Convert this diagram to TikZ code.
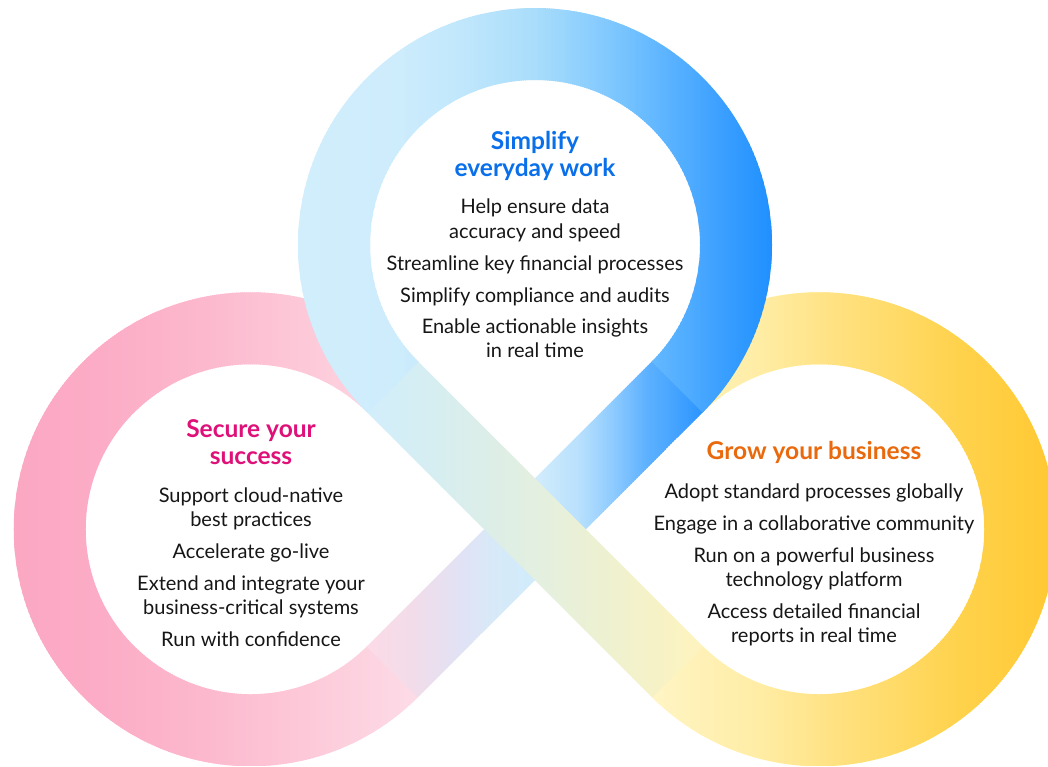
\documentclass[tikz,border=0pt]{standalone}
\usepackage{fontspec}
\setmainfont{Lato}
\usetikzlibrary{calc}

\definecolor{bodytext}{HTML}{161616}
\definecolor{titleblue}{HTML}{0A6FEA}
\definecolor{titlepink}{HTML}{DF1078}
\definecolor{titleorange}{HTML}{E9690C}

% top loop colours
\definecolor{tl0}{HTML}{D2EEFC}
\definecolor{tl1}{HTML}{CDECFC}
\definecolor{tl2}{HTML}{C1E7FC}
\definecolor{tl3}{HTML}{A9DDFB}
\definecolor{tl4}{HTML}{86CBFE}
\definecolor{tl5}{HTML}{66BAFF}
\definecolor{tl6}{HTML}{3CA0FF}
\definecolor{tl7}{HTML}{1E8FFF}
% pink loop colours
\definecolor{pl0}{HTML}{FBA7C3}
\definecolor{pl1}{HTML}{FCACC6}
\definecolor{pl2}{HTML}{FCB8CD}
\definecolor{pl3}{HTML}{FDC8D8}
\definecolor{pl4}{HTML}{FDDCE7}
% yellow loop colours
\definecolor{yl0}{HTML}{FFF5C6}
\definecolor{yl1}{HTML}{FFEDA5}
\definecolor{yl2}{HTML}{FFE284}
\definecolor{yl3}{HTML}{FFDA66}
\definecolor{yl4}{HTML}{FFD24C}
\definecolor{yl5}{HTML}{FFC933}
% diagonal 1 (top-left to bottom-right)
\definecolor{da0}{HTML}{D2EEFC}
\definecolor{da1}{HTML}{D6EEF2}
\definecolor{da2}{HTML}{DAEEEB}
\definecolor{da3}{HTML}{E3EFE0}
\definecolor{da4}{HTML}{EDF1D2}
\definecolor{da5}{HTML}{F5F2C8}
\definecolor{da6}{HTML}{FFF3BE}
% diagonal 2 (bottom-left to top-right)
\definecolor{db0}{HTML}{FCDBE6}
\definecolor{db1}{HTML}{F2DCEA}
\definecolor{db2}{HTML}{E0E3F5}
\definecolor{db3}{HTML}{D6EAF8}
\definecolor{db4}{HTML}{D0EBFC}
\definecolor{db5}{HTML}{B8E0FD}
\definecolor{db6}{HTML}{8ECBFF}
\definecolor{db7}{HTML}{5DB1FF}
\definecolor{db8}{HTML}{2A94FF}

% horizontal gradient made of thin solid strips (inside a clip)
\newcommand\gradstrips[1]{%
  \foreach \xa/\ca/\xb/\cb in {#1} {%
    \pgfmathtruncatemacro\nseg{max(1,round((\xb-\xa)/2))}%
    \foreach \k in {1,...,\nseg} {%
      \pgfmathsetmacro\xl{\xa+(\k-1)*(\xb-\xa)/\nseg}%
      \pgfmathsetmacro\xr{\xa+\k*(\xb-\xa)/\nseg+0.8}%
      \pgfmathsetmacro\pp{100*(1-(\k-0.5)/\nseg)}%
      \colorlet{stripc}{\ca!\pp!\cb}%
      \fill[stripc] (\xl,0) rectangle (\xr,766);%
    }%
  }%
}

\begin{document}
\begin{tikzpicture}[x=1pt,y=-1pt,
  body/.style={font=\fontsize{20}{24}\selectfont, text=bodytext, anchor=base, inner sep=0pt},
  title/.style={font=\fontsize{24.5}{29}\selectfont\bfseries, anchor=base, inner sep=0pt}]
\useasboundingbox (0,0) rectangle (1048,766);
\clip (0,0) rectangle (1048,766);
\fill[white] (0,0) rectangle (1048,766);

\def\ro{237}
\def\ri{165}
\def\rm{201}
\def\hw{36}
\coordinate (T) at (535,245);
\coordinate (L) at (250.74,529.26);
\coordinate (R) at (819.26,529.26);

% left (pink) loop
\begin{scope}
\clip ($(L)+(45:\ro)$) arc[start angle=45, end angle=315, radius=\ro]
  -- ($(L)+(315:\ri)$) arc[start angle=315, end angle=45, radius=\ri] -- cycle;
\gradstrips{12/pl0/100/pl1, 100/pl1/200/pl2, 200/pl2/300/pl3, 300/pl3/420/pl4}
\end{scope}

% right (yellow) loop
\begin{scope}
\clip ($(R)+(135:\ro)$) arc[start angle=135, end angle=-135, radius=\ro]
  -- ($(R)+(-135:\ri)$) arc[start angle=-135, end angle=135, radius=\ri] -- cycle;
\gradstrips{648/yl0/760/yl1, 760/yl1/830/yl2, 830/yl2/900/yl3, 900/yl3/960/yl4, 960/yl4/1050/yl5}
\end{scope}

% diagonal from top loop (lower right) to left loop
\coordinate (Q1) at ($(T)+(45:\rm)$);
\coordinate (Q2) at ($(L)+(45:\rm)$);
\coordinate (Q1e) at ($(Q1)!-3pt!(Q2)$);
\coordinate (Q2e) at ($(Q2)!-1pt!(Q1)$);
\begin{scope}
\clip ($(Q1e)+(45:\hw)$) -- ($(Q2e)+(45:\hw)$) -- ($(Q2e)+(225:\hw)$) -- ($(Q1e)+(225:\hw)$) -- cycle;
\gradstrips{365/db0/413/db1, 413/db1/463/db2, 463/db2/500/db3, 500/db3/540/db4, 540/db4/580/db5, 580/db5/613/db6, 613/db6/647/db7, 647/db7/706/db8}
\end{scope}

% diagonal from top loop (lower left) to right loop
\coordinate (P1) at ($(T)+(135:\rm)$);
\coordinate (P2) at ($(R)+(135:\rm)$);
\coordinate (P1e) at ($(P1)!-3pt!(P2)$);
\coordinate (P2e) at ($(P2)!-1pt!(P1)$);
\begin{scope}
\clip ($(P1e)+(-45:\hw)$) -- ($(P2e)+(-45:\hw)$) -- ($(P2e)+(135:\hw)$) -- ($(P1e)+(135:\hw)$) -- cycle;
\gradstrips{365/da0/430/da1, 430/da1/470/da2, 470/da2/535/da3, 535/da3/600/da4, 600/da4/650/da5, 650/da5/706/da6}
\end{scope}

% top (blue) loop
\begin{scope}
\clip ($(T)+(135:\ro)$) arc[start angle=135, end angle=405, radius=\ro]
  -- ($(T)+(45:\ri)$) arc[start angle=405, end angle=135, radius=\ri] -- cycle;
\gradstrips{296/tl0/400/tl1, 400/tl1/460/tl2, 460/tl2/535/tl3, 535/tl3/600/tl4, 600/tl4/650/tl5, 650/tl5/720/tl6, 720/tl6/775/tl7}
\end{scope}

% top texts
\node[title, text=titleblue] (t0a) at (535,149) {Simplify};
\node[title, text=titleblue] (t0b) at (535,176) {everyday work};
\node[body] (t1a) at (535,213) {Help ensure data};
\node[body] (t1b) at (535,238) {accuracy and speed};
\node[body] (t2) at (535,270) {Streamline key financial processes};
\node[body] (t3) at (535,302) {Simplify compliance and audits};
\node[body] (t4a) at (535,333) {Enable actionable insights};
\node[body] (t4b) at (535,357) {in real time};

% left texts
\node[title, text=titlepink] (l0a) at (251,437) {Secure your};
\node[title, text=titlepink] (l0b) at (251,464) {success};
\node[body] (l1a) at (251,502) {Support cloud-native};
\node[body] (l1b) at (251,526) {best practices};
\node[body] (l2) at (251,558) {Accelerate go-live};
\node[body] (l3a) at (251,590) {Extend and integrate your};
\node[body] (l3b) at (251,614) {business-critical systems};
\node[body] (l4) at (251,646) {Run with confidence};

% right texts
\node[title, text=titleorange] (r0) at (814,459) {Grow your business};
\node[body] (r1) at (814,498) {Adopt standard processes globally};
\node[body] (r2) at (814,530) {Engage in a collaborative community};
\node[body] (r3a) at (814,562) {Run on a powerful business};
\node[body] (r3b) at (814,586) {technology platform};
\node[body] (r4a) at (814,618) {Access detailed financial};
\node[body] (r4b) at (814,642) {reports in real time};
\end{tikzpicture}
\end{document}
